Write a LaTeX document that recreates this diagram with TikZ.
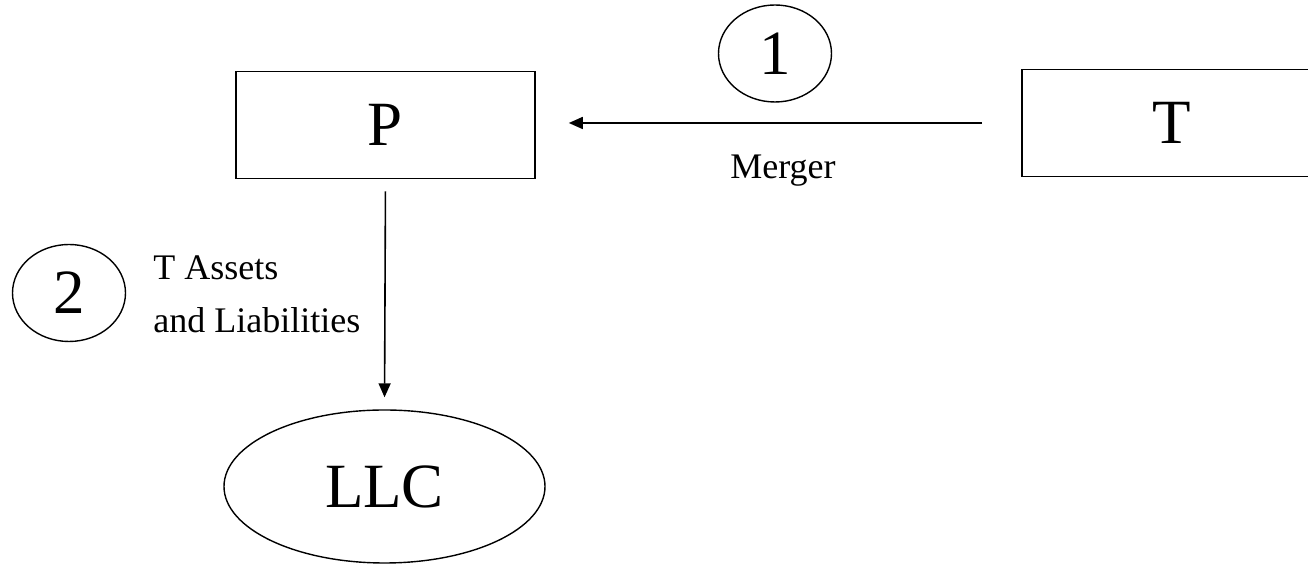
\documentclass[tikz,border=0pt]{standalone}
\usepackage{fontspec}
\setmainfont{Liberation Serif}
\usetikzlibrary{arrows.meta,shapes.geometric}
\tikzset{
  firm/.style={draw,line width=0.8pt,minimum width=149.5pt,minimum height=53.5pt,inner sep=0pt,font=\fontsize{31.5}{36}\selectfont},
  llc/.style={draw,ellipse,line width=0.7pt,minimum width=160.5pt,minimum height=76.5pt,inner sep=0pt,font=\fontsize{31.5}{36}\selectfont},
  stepno/.style={draw,ellipse,line width=0.7pt,minimum width=56.5pt,minimum height=48.5pt,inner sep=0pt,font=\fontsize{31.5}{36}\selectfont},
  lbl/.style={inner sep=0pt,font=\fontsize{18}{26.5}\selectfont},
  flow/.style={line width=0.8pt,-{Triangle[length=7pt,width=6pt]}}
}
\begin{document}
\begin{tikzpicture}[x=0.5pt,y=-0.5pt]
\useasboundingbox (0,0) rectangle (1308,565);
\clip (0,0) rectangle (1308,565);
% parties
\node [firm] (P) at (385.5,125) {P};
\node [firm] (T) at (1171.5,123) {T};
\node [llc] (LLC) at (384.5,486.5) {LLC};
% step 1
\node [stepno] (s1) at (775,53.5) {1};
\draw [flow,shorten <=19.5pt,shorten >=16.5pt] (T.west) -- (P.east |- T.west);
\node [lbl,anchor=base] (merger) at (783,179) {Merger};
% step 2
\node [stepno] (s2) at (69,293) {2};
\draw [flow,shorten <=6pt,shorten >=6pt] (P.south) -- (LLC.north);
\node [lbl,anchor=base west,align=left] (assets) at (153,333) {T Assets\\and Liabilities};
\end{tikzpicture}
\end{document}
